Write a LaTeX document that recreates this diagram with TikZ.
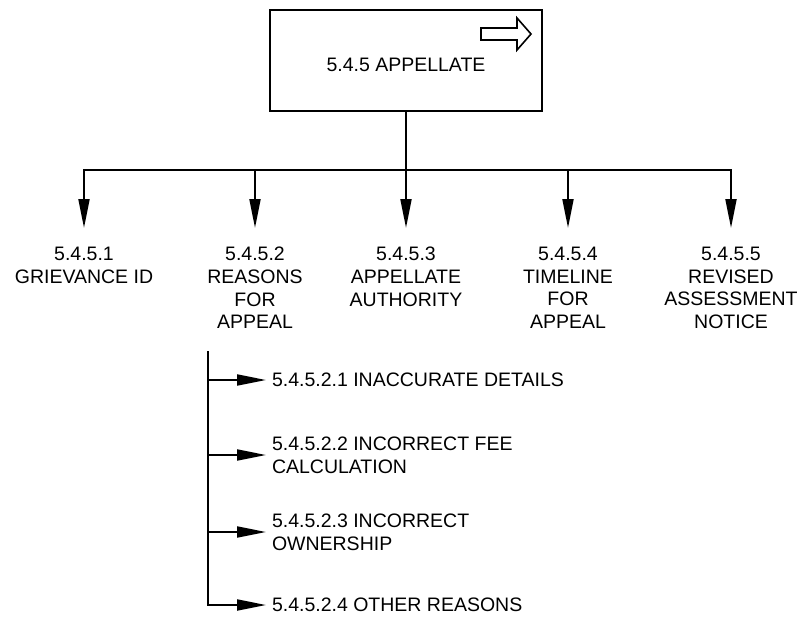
\documentclass[tikz,border=0pt]{standalone}
\usepackage{fontspec}
\setmainfont{Liberation Sans}
\usetikzlibrary{arrows.meta}

\begin{document}
\begin{tikzpicture}[
        x=1pt, y=-1pt,
        line width=2pt,
        every node/.style={font=\fontsize{19.5}{22.7}\selectfont},
        arr/.style={-{Triangle[length=29pt,width=11pt]}},
        head/.style={draw, minimum width=272pt, minimum height=101pt, text height=21pt, text depth=0pt},
        branch/.style={anchor=north, align=center, inner xsep=0pt, inner ysep=18pt},
        reason/.style={anchor=west, align=left, inner xsep=5pt, inner ysep=0pt}
    ]
        \useasboundingbox (0,0) rectangle (798,616);

        % Hop chinh
        \node[head] (app) at (406,60.5) {5.4.5 APPELLATE};
        \draw[line width=1.6pt] (481,28) -- (517,28) -- (517,18) -- (531,34) -- (517,50) -- (517,40) -- (481,40) -- cycle;

        % Cac nhanh con
        \node[branch] (g1) at (84,228) {5.4.5.1\\GRIEVANCE ID};
        \node[branch] (g2) at (255,228) {5.4.5.2\\REASONS\\FOR\\APPEAL};
        \node[branch] (g3) at (406,228) {5.4.5.3\\APPELLATE\\AUTHORITY};
        \node[branch] (g4) at (568,228) {5.4.5.4\\TIMELINE\\FOR\\APPEAL};
        \node[branch] (g5) at (731,228) {5.4.5.5\\REVISED\\ASSESSMENT\\NOTICE};

        % Cac ly do
        \node[reason] (r1) at (266,380) {5.4.5.2.1 INACCURATE DETAILS};
        \node[reason] (r2) at (266,455) {5.4.5.2.2 INCORRECT FEE\\CALCULATION};
        \node[reason] (r3) at (266,532) {5.4.5.2.3 INCORRECT\\OWNERSHIP};
        \node[reason] (r4) at (266,605) {5.4.5.2.4 OTHER REASONS};

        % Thanh ngang va duong doc
        \coordinate (bar) at (406,170);
        \coordinate (subtop) at (208,351);

        % Cac mui ten
        \draw[arr] (app.south) -- (g3.north);
        \foreach \g in {g1,g2,g4,g5}
            \draw[arr] (bar) -| (\g.north);
        \draw[arr] (subtop) |- (r4.west);
        \foreach \r in {r1,r2,r3}
            \draw[arr] (subtop |- \r.west) -- (\r.west);
    \end{tikzpicture}
\end{document}
